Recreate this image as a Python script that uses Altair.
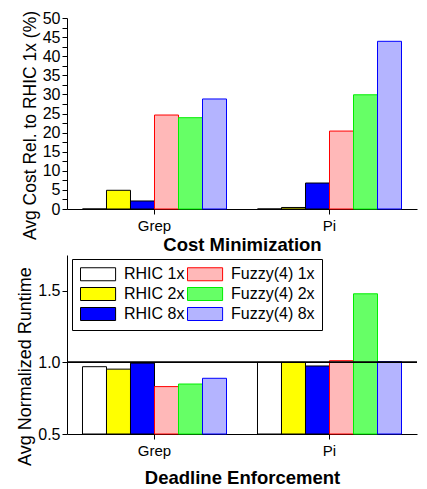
import altair as alt
import pandas as pd

groups = ["Grep", "Pi"]
series = ["RHIC 1x", "RHIC 2x", "RHIC 8x", "Fuzzy(4) 1x", "Fuzzy(4) 2x", "Fuzzy(4) 8x"]
cost_grep = [0.0, 4.9, 2.1, 24.6, 23.9, 28.8]
cost_pi = [0.0, 0.4, 6.8, 20.4, 29.9, 43.9]
rt_grep = [0.97, 0.953, 0.995, 0.831, 0.849, 0.889]
rt_pi = [1.0, 1.0, 0.975, 1.012, 1.479, 1.005]

fill_colors = ["#FFFFFF", "#FFFF00", "#0000FF", "#FFB8B8", "#66FF66", "#B4B4FF"]
stroke_colors = ["#000000", "#000000", "#000000", "#FF0000", "#00EE00", "#0000FF"]

def table(a, b):
    rows = []
    for g, vals in zip(groups, [a, b]):
        for s, v in zip(series, vals):
            rows.append({"group": g, "series": s, "value": v})
    return pd.DataFrame(rows)

df_cost = table(cost_grep, cost_pi)
df_rt = table(rt_grep, rt_pi)

FONT = "Liberation Sans"
W = 350
H1 = 191
H2 = 179

def x_enc(title, tpad):
    return alt.X(
        "group:N", sort=groups,
        scale=alt.Scale(paddingInner=0.177, paddingOuter=0.0885),
        axis=alt.Axis(title=title, labelAngle=0, labelFontSize=15, labelPadding=4,
                      titleFontSize=18.5, titleFontWeight="bold", titlePadding=tpad,
                      tickSize=5, domainColor="black", tickColor="black"),
    )

xoff = alt.XOffset("series:N", sort=series, scale=alt.Scale(paddingInner=0, paddingOuter=0))

fill_scale = alt.Scale(domain=series, range=fill_colors)
stroke_scale = alt.Scale(domain=series, range=stroke_colors)

top = alt.Chart(df_cost).mark_bar(strokeWidth=1).encode(
    x=x_enc("Cost Minimization", 2),
    xOffset=xoff,
    y=alt.Y("value:Q", scale=alt.Scale(domain=[0, 50], nice=False),
            axis=alt.Axis(title="Avg Cost Rel. to RHIC 1x (%)",
                          values=[i * 2.5 for i in range(21)],
                          labelExpr="datum.value % 5 === 0 ? datum.label : ''",
                          labelFontSize=16, labelPadding=2,
                          titleFontSize=17.5, titleFontWeight="normal",
                          titlePadding=3, titleY=107,
                          tickSize=5, grid=False, domainColor="black", tickColor="black")),
    fill=alt.Fill("series:N", scale=fill_scale, legend=None),
    stroke=alt.Stroke("series:N", scale=stroke_scale, legend=None),
).properties(width=W, height=H1)

bars = alt.Chart(df_rt).mark_bar(strokeWidth=1).encode(
    x=x_enc("Deadline Enforcement", 10),
    xOffset=xoff,
    y=alt.Y("value:Q", scale=alt.Scale(domain=[0.5, 1.75], nice=False, zero=False),
            axis=alt.Axis(title="Avg Normalized Runtime",
                          values=[0.5, 0.75, 1.0, 1.25, 1.5, 1.75],
                          labelExpr="(datum.value * 2) % 1 === 0 ? format(datum.value, '.1f') : ''",
                          labelFontSize=16, labelPadding=2,
                          titleFontSize=18, titleFontWeight="normal",
                          titlePadding=3, titleY=111,
                          tickSize=5, grid=False, domainColor="black", tickColor="black")),
    y2=alt.datum(0.5),
    fill=alt.Fill("series:N", scale=fill_scale,
                  legend=alt.Legend(title=None, orient="none", legendX=5, legendY=4,
                                    columns=2, columnPadding=0, rowPadding=2,
                                    symbolType="M-1,-1L4.4,-1L4.4,1L-1,1Z",
                                    symbolSize=169, symbolStrokeWidth=1,
                                    labelFontSize=16, labelOffset=29,
                                    strokeColor="black", padding=7, fillColor="white")),
    stroke=alt.Stroke("series:N", scale=stroke_scale),
)
one_line = alt.Chart(df_rt).mark_rule(color="black", strokeWidth=1).encode(y=alt.datum(1.0))

bottom = alt.layer(bars, one_line).properties(width=W, height=H2)

chart = alt.vconcat(top, bottom, spacing=0).resolve_scale(
    fill="independent", stroke="independent"
).properties(
    padding={"left": 8, "top": 1, "right": 0, "bottom": 0}
).configure(font=FONT).configure_view(stroke="transparent").configure_axis(
    labelColor="black", titleColor="black"
).configure_legend(labelColor="black")

chart.save("out.html", embed_options={"renderer": "svg", "actions": False})
